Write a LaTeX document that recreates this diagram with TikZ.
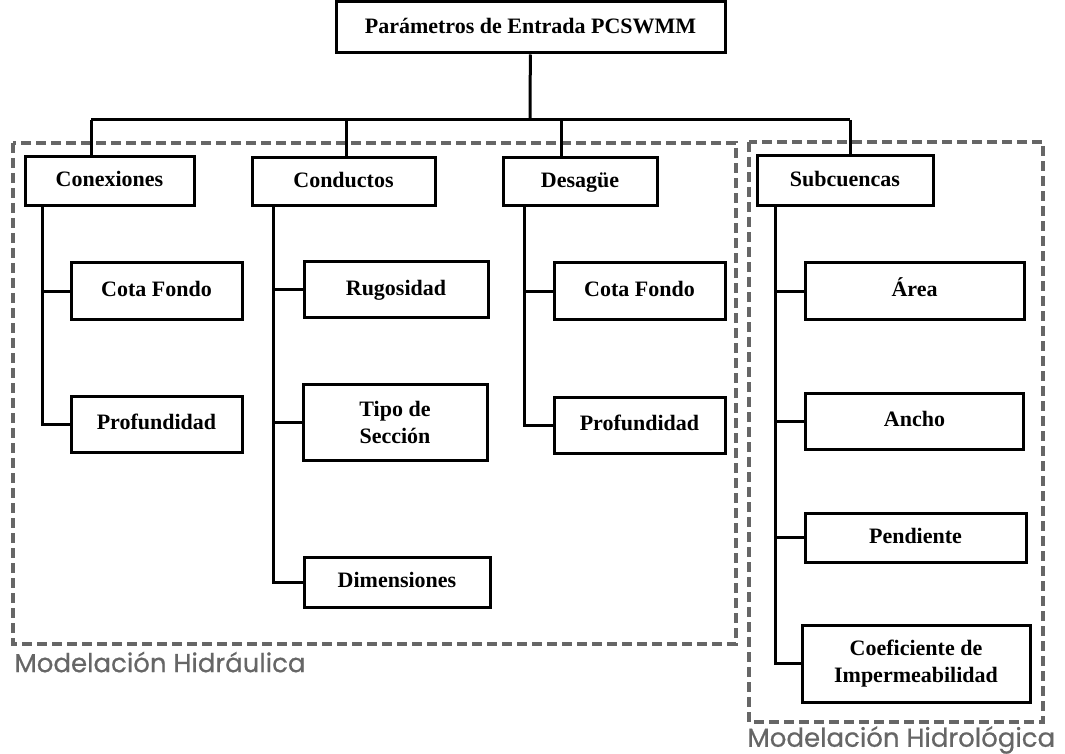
\documentclass[tikz,border=0pt]{standalone}
\usepackage{fontspec}
\setmainfont{Liberation Serif}
\newfontfamily\zonefont[FakeBold=0.6]{Poppins}
\definecolor{zonegray}{HTML}{666666}

\begin{document}
\begin{tikzpicture}[x=0.5pt, y=-0.5pt,
    box/.style={draw, line width=1.5pt, inner sep=0pt, align=center,
        font=\bfseries\fontsize{11}{13.5}\selectfont},
    onebox/.style={box, text height=1.6ex, text depth=.35ex},
    link/.style={line width=1.5pt},
    zone/.style={draw=zonegray, line width=2pt, dash pattern=on 5pt off 2.5pt},
    zonetext/.style={anchor=west, inner sep=0pt, text=zonegray,
        font=\zonefont\fontsize{13}{15}\selectfont}]

    \useasboundingbox (0,0) rectangle (1065,754);

    % Zones
    \draw[zone] (13,143) rectangle (736,644);
    \draw[zone] (749,142) rectangle (1043,722);
    \node[zonetext] (hidraulica) at (14,662) {Modelación Hidráulica};
    \node[zonetext] (hidrologica) at (747,740) {Modelación Hidrológica};

    % Root
    \node[onebox, minimum width=194.5pt, minimum height=25.5pt] (top) at (530.5,27.5) {Parámetros de Entrada PCSWMM};

    % Groups
    \node[onebox, minimum width=84.5pt, minimum height=24.5pt] (con) at (109.5,181) {Conexiones};
    \node[onebox, minimum width=91.5pt, minimum height=24pt] (cnd) at (343.5,182) {Conductos};
    \node[onebox, minimum width=77pt, minimum height=24pt] (des) at (580,182) {Desagüe};
    \node[onebox, minimum width=88pt, minimum height=25pt] (sub) at (845,181) {Subcuencas};

    % Conexiones
    \node[onebox, minimum width=85.5pt, minimum height=28pt] (cota1) at (156.5,291) {Cota Fondo};
    \node[onebox, minimum width=85.5pt, minimum height=28pt] (prof1) at (156.5,424) {Profundidad};

    % Conductos
    \node[onebox, minimum width=92pt, minimum height=27.5pt] (rug) at (396,289.5) {Rugosidad};
    \node[box, minimum width=92pt, minimum height=38pt] (tipo) at (395,422) {Tipo de\\Sección};
    \node[onebox, minimum width=93pt, minimum height=25pt] (dim) at (397,582) {Dimensiones};

    % Desague
    \node[onebox, minimum width=85.5pt, minimum height=28pt] (cota2) at (639.5,291) {Cota Fondo};
    \node[onebox, minimum width=85.5pt, minimum height=28pt] (prof2) at (639.5,425) {Profundidad};

    % Subcuencas
    \node[onebox, minimum width=109.5pt, minimum height=28pt] (area) at (914.5,291) {Área};
    \node[onebox, minimum width=109pt, minimum height=28pt] (ancho) at (914.5,421) {Ancho};
    \node[onebox, minimum width=110.5pt, minimum height=24.5pt] (pend) at (915.5,537.5) {Pendiente};
    \node[box, minimum width=114pt, minimum height=38.5pt] (coef) at (916,663.5) {Coeficiente de\\Impermeabilidad};

    % Bus
    \coordinate (bus) at (530,120);
    \coordinate (conTop) at (91,120);
    \coordinate (cndTop) at (346,120);
    \coordinate (desTop) at (561,120);
    \coordinate (subTop) at (850,120);
    \draw[link] (top) -- (bus);
    \draw[link] (conTop) -- (subTop);
    \foreach \g in {con, cnd, des, sub}{
        \draw[link] (\g Top) -- (\g Top |- \g.north);
    }

    % Spines
    \coordinate (conSp) at (42,0);
    \coordinate (cndSp) at (273,0);
    \coordinate (desSp) at (524,0);
    \coordinate (subSp) at (775,0);
    \draw[link] (conSp |- con.south) -- (conSp |- prof1.west) -- (prof1.west);
    \draw[link] (conSp |- cota1.west) -- (cota1.west);
    \draw[link] (cndSp |- cnd.south) -- (cndSp |- dim.west) -- (dim.west);
    \foreach \c in {rug, tipo}{
        \draw[link] (cndSp |- \c.west) -- (\c.west);
    }
    \draw[link] (desSp |- des.south) -- (desSp |- prof2.west) -- (prof2.west);
    \draw[link] (desSp |- cota2.west) -- (cota2.west);
    \draw[link] (subSp |- sub.south) -- (subSp |- coef.west) -- (coef.west);
    \foreach \c in {area, ancho, pend}{
        \draw[link] (subSp |- \c.west) -- (\c.west);
    }

\end{tikzpicture}
\end{document}
